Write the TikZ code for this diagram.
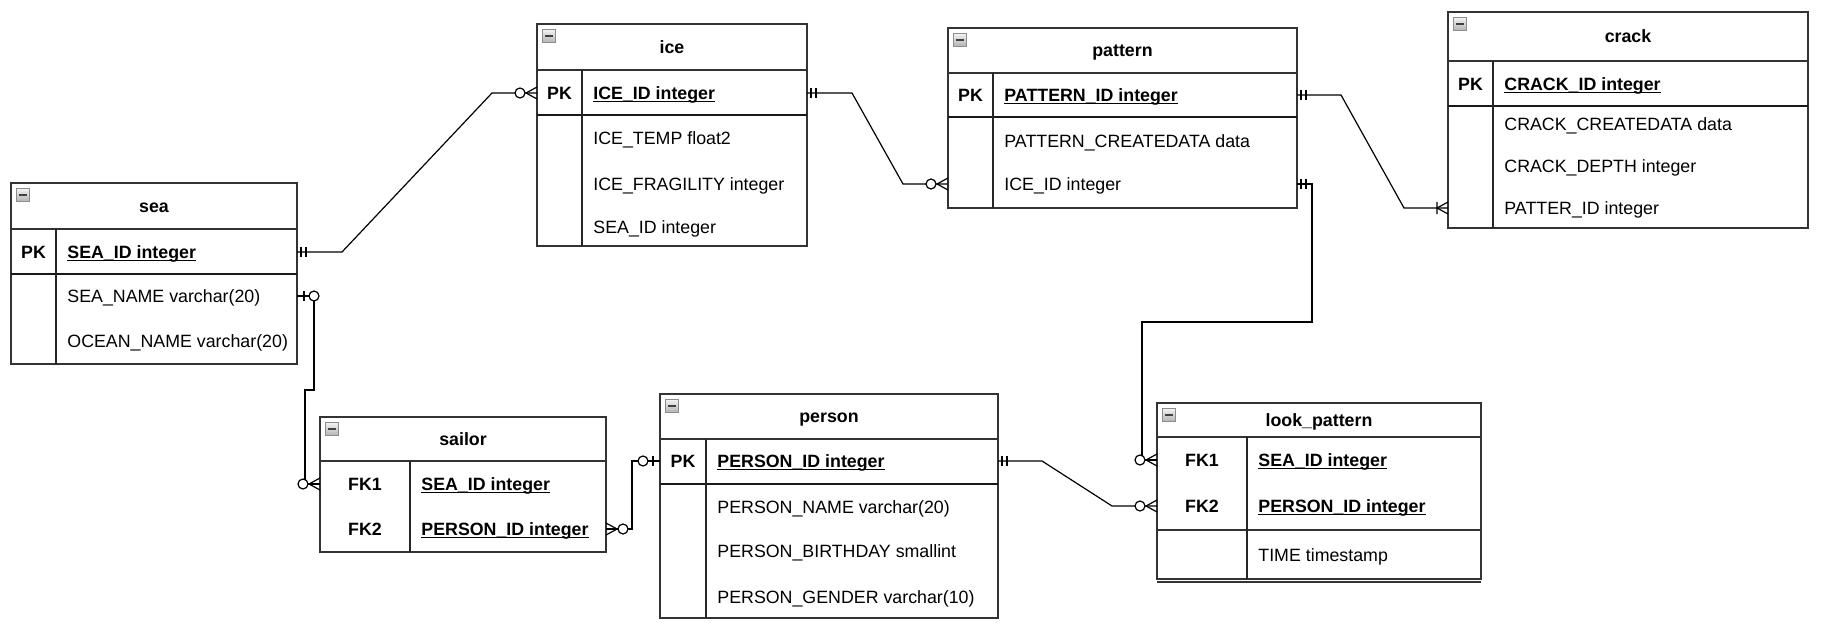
\documentclass[tikz,border=0pt]{standalone}
\usepackage{fontspec}
\setmainfont{Liberation Sans}
\usetikzlibrary{calc}

\newcommand\erfont{\fontsize{8.9}{11}\selectfont}
\newcommand\keyline[1]{\setbox0\hbox{#1}\rlap{\rule[-1.5pt]{\wd0}{0.55pt}}\box0}

\tikzset{
  tbl/.style={draw=black!80, line width=1pt, anchor=north west, inner sep=0pt, outer sep=0pt},
  hsep/.style={draw=black!80, line width=1pt},
  keysep/.style={draw=black!90, line width=1.3pt},
  vsep/.style={draw=black!85, line width=0.7pt},
  ttl/.style={font=\erfont\bfseries, inner sep=0pt, text height=6.4pt, text depth=0pt},
  key/.style={font=\erfont\bfseries, inner sep=0pt, text height=6.4pt, text depth=0pt},
  fld/.style={font=\erfont, anchor=west, inner sep=0pt, text height=6.4pt, text depth=0pt},
  pkf/.style={fld, font=\erfont\bfseries},
  btn/.style={draw=black!45, top color=black!5, bottom color=black!30, line width=0.4pt,
    minimum size=6.5pt, inner sep=0pt,
    path picture={\draw[black!75, line width=1.3pt]
      ([xshift=1.2pt]path picture bounding box.west) -- ([xshift=-1.2pt]path picture bounding box.east);}},
  conn/.style={line width=0.6pt},
  erMandOne/.pic={\draw[conn] (-4,-5) -- (-4,5) (-9,-5) -- (-9,5);},
  erZeroOne/.pic={\draw[conn] (-7,-5) -- (-7,5); \draw[conn, fill=white] (-17,0) circle (5);},
  erZeroMany/.pic={\draw[conn] (0,-6) -- (-11,0) -- (0,6); \draw[conn, fill=white] (-17,0) circle (5);},
  erOneMany/.pic={\draw[conn] (0,-6) -- (-11,0) -- (0,6) (-11,-6) -- (-11,6);},
}

\begin{document}
\begin{tikzpicture}[x=0.5pt,y=0.5pt,yscale=-1,xscale=1]
  \useasboundingbox (0,0) rectangle (1826,642);

  % Table: sea
  \node[tbl, minimum width=143pt, minimum height=90.5pt] (sea) at (11,183) {};
  \draw[hsep] (11,229) -- (297,229);
  \draw[keysep] (11,274) -- (297,274);
  \draw[vsep] (56,229) -- (56,364);
  \node[btn] (sea-btn) at (23,195) {};
  \node[ttl] (sea-t) at (154,206) {sea};
  \node[key] (sea-k1) at (33.5,252) {PK};
  \node[pkf] (sea-f1) at (67,252) {\keyline{SEA\_ID integer}};
  \node[fld] (sea-f2) at (67,296) {SEA\_NAME varchar(20)};
  \node[fld] (sea-f3) at (67,341) {OCEAN\_NAME varchar(20)};

  % Table: ice
  \node[tbl, minimum width=135pt, minimum height=111pt] (ice) at (537,24) {};
  \draw[hsep] (537,70) -- (807,70);
  \draw[keysep] (537,115) -- (807,115);
  \draw[vsep] (582,70) -- (582,246);
  \node[btn] (ice-btn) at (549,36) {};
  \node[ttl] (ice-t) at (672,47) {ice};
  \node[key] (ice-k1) at (559.5,93) {PK};
  \node[pkf] (ice-f1) at (593,93) {\keyline{ICE\_ID integer}};
  \node[fld] (ice-f2) at (593,138) {ICE\_TEMP float2};
  \node[fld] (ice-f3) at (593,184) {ICE\_FRAGILITY integer};
  \node[fld] (ice-f4) at (593,227) {SEA\_ID integer};

  % Table: pattern
  \node[tbl, minimum width=174.5pt, minimum height=90pt] (pattern) at (948,28) {};
  \draw[hsep] (948,73) -- (1297,73);
  \draw[keysep] (948,117) -- (1297,117);
  \draw[vsep] (993,73) -- (993,208);
  \node[btn] (pattern-btn) at (960,40) {};
  \node[ttl] (pattern-t) at (1122.5,50.5) {pattern};
  \node[key] (pattern-k1) at (970.5,95) {PK};
  \node[pkf] (pattern-f1) at (1004,95) {\keyline{PATTERN\_ID integer}};
  \node[fld] (pattern-f2) at (1004,141) {PATTERN\_CREATEDATA data};
  \node[fld] (pattern-f3) at (1004,184) {ICE\_ID integer};

  % Table: crack
  \node[tbl, minimum width=180pt, minimum height=108pt] (crack) at (1448,12) {};
  \draw[hsep] (1448,61) -- (1808,61);
  \draw[keysep] (1448,106) -- (1808,106);
  \draw[vsep] (1493,61) -- (1493,228);
  \node[btn] (crack-btn) at (1460,24) {};
  \node[ttl] (crack-t) at (1628,36.5) {crack};
  \node[key] (crack-k1) at (1470.5,84) {PK};
  \node[pkf] (crack-f1) at (1504,84) {\keyline{CRACK\_ID integer}};
  \node[fld] (crack-f2) at (1504,124) {CRACK\_CREATEDATA data};
  \node[fld] (crack-f3) at (1504,166) {CRACK\_DEPTH integer};
  \node[fld] (crack-f4) at (1504,208) {PATTER\_ID integer};

  % Table: sailor
  \node[tbl, minimum width=143pt, minimum height=67.5pt] (sailor) at (320,417) {};
  \draw[hsep] (320,461) -- (606,461);
  \draw[vsep] (410,461) -- (410,552);
  \node[btn] (sailor-btn) at (332,429) {};
  \node[ttl] (sailor-t) at (463,439) {sailor};
  \node[key] (sailor-k1) at (365,484) {FK1};
  \node[key] (sailor-k2) at (365,529) {FK2};
  \node[pkf] (sailor-f1) at (421,484) {\keyline{SEA\_ID integer}};
  \node[pkf] (sailor-f2) at (421,529) {\keyline{PERSON\_ID integer}};

  % Table: person
  \node[tbl, minimum width=169pt, minimum height=112pt] (person) at (660,394) {};
  \draw[hsep] (660,439) -- (998,439);
  \draw[keysep] (660,484) -- (998,484);
  \draw[vsep] (706,439) -- (706,618);
  \node[btn] (person-btn) at (672,406) {};
  \node[ttl] (person-t) at (829,416.5) {person};
  \node[key] (person-k1) at (683,461) {PK};
  \node[pkf] (person-f1) at (717,461) {\keyline{PERSON\_ID integer}};
  \node[fld] (person-f2) at (717,507) {PERSON\_NAME varchar(20)};
  \node[fld] (person-f3) at (717,551) {PERSON\_BIRTHDAY smallint};
  \node[fld] (person-f4) at (717,597) {PERSON\_GENDER varchar(10)};

  % Table: look_pattern
  \node[tbl, minimum width=162pt, minimum height=88pt] (look) at (1157,403) {};
  \draw[hsep] (1157,437) -- (1481,437);
  \draw[hsep] (1157,530) -- (1481,530);
  \draw[hsep] (1157,582) -- (1481,582);
  \draw[vsep] (1247,437) -- (1247,579);
  \node[btn] (look-btn) at (1169,415) {};
  \node[ttl] (look-t) at (1319,420) {look\_pattern};
  \node[key] (look-k1) at (1202,460) {FK1};
  \node[key] (look-k2) at (1202,506) {FK2};
  \node[pkf] (look-f1) at (1258,460) {\keyline{SEA\_ID integer}};
  \node[pkf] (look-f2) at (1258,506) {\keyline{PERSON\_ID integer}};
  \node[fld] (look-f3) at (1258,555) {TIME timestamp};

  %Straight Lines: relations
  \draw[conn] (sea.east |- sea-f1) -- ++(45,0) -- ($(ice.west |- ice-f1)+(-45,0)$) -- (ice.west |- ice-f1);
  \draw[conn] (ice.east |- ice-f1) -- ++(45,0) -- ($(pattern.west |- pattern-f3)+(-45,0)$) -- (pattern.west |- pattern-f3);
  \draw[conn] (pattern.east |- pattern-f1) -- ++(44,0) -- ($(crack.west |- crack-f4)+(-44,0)$) -- (crack.west |- crack-f4);
  \draw[conn] (pattern.east |- pattern-f3) -- ++(15,0) -- ++(0,138) -| ($(look.west |- look-f1)+(-15,0)$) -- (look.west |- look-f1);
  \draw[conn] (sea.east |- sea-f2) -- ++(17,0) -- ++(0,94) -| ($(sailor.west |- sailor-f1)+(-15,0)$) -- (sailor.west |- sailor-f1);
  \draw[conn] (sailor.east |- sailor-f2) -- ++(26,0) |- (person.west |- person-f1);
  \draw[conn] (person.east |- person-f1) -- ++(44,0) -- ($(look.west |- look-f2)+(-45,0)$) -- (look.west |- look-f2);

  % Ends
  \pic[rotate=180] at (sea.east |- sea-f1) {erMandOne};
  \pic at (ice.west |- ice-f1) {erZeroMany};
  \pic[rotate=180] at (ice.east |- ice-f1) {erMandOne};
  \pic at (pattern.west |- pattern-f3) {erZeroMany};
  \pic[rotate=180] at (pattern.east |- pattern-f1) {erMandOne};
  \pic at (crack.west |- crack-f4) {erOneMany};
  \pic[rotate=180] at (pattern.east |- pattern-f3) {erMandOne};
  \pic at (look.west |- look-f1) {erZeroMany};
  \pic[rotate=180] at (sea.east |- sea-f2) {erZeroOne};
  \pic at (sailor.west |- sailor-f1) {erZeroMany};
  \pic[rotate=180] at (sailor.east |- sailor-f2) {erZeroMany};
  \pic at (person.west |- person-f1) {erZeroOne};
  \pic[rotate=180] at (person.east |- person-f1) {erMandOne};
  \pic at (look.west |- look-f2) {erZeroMany};
\end{tikzpicture}
\end{document}
